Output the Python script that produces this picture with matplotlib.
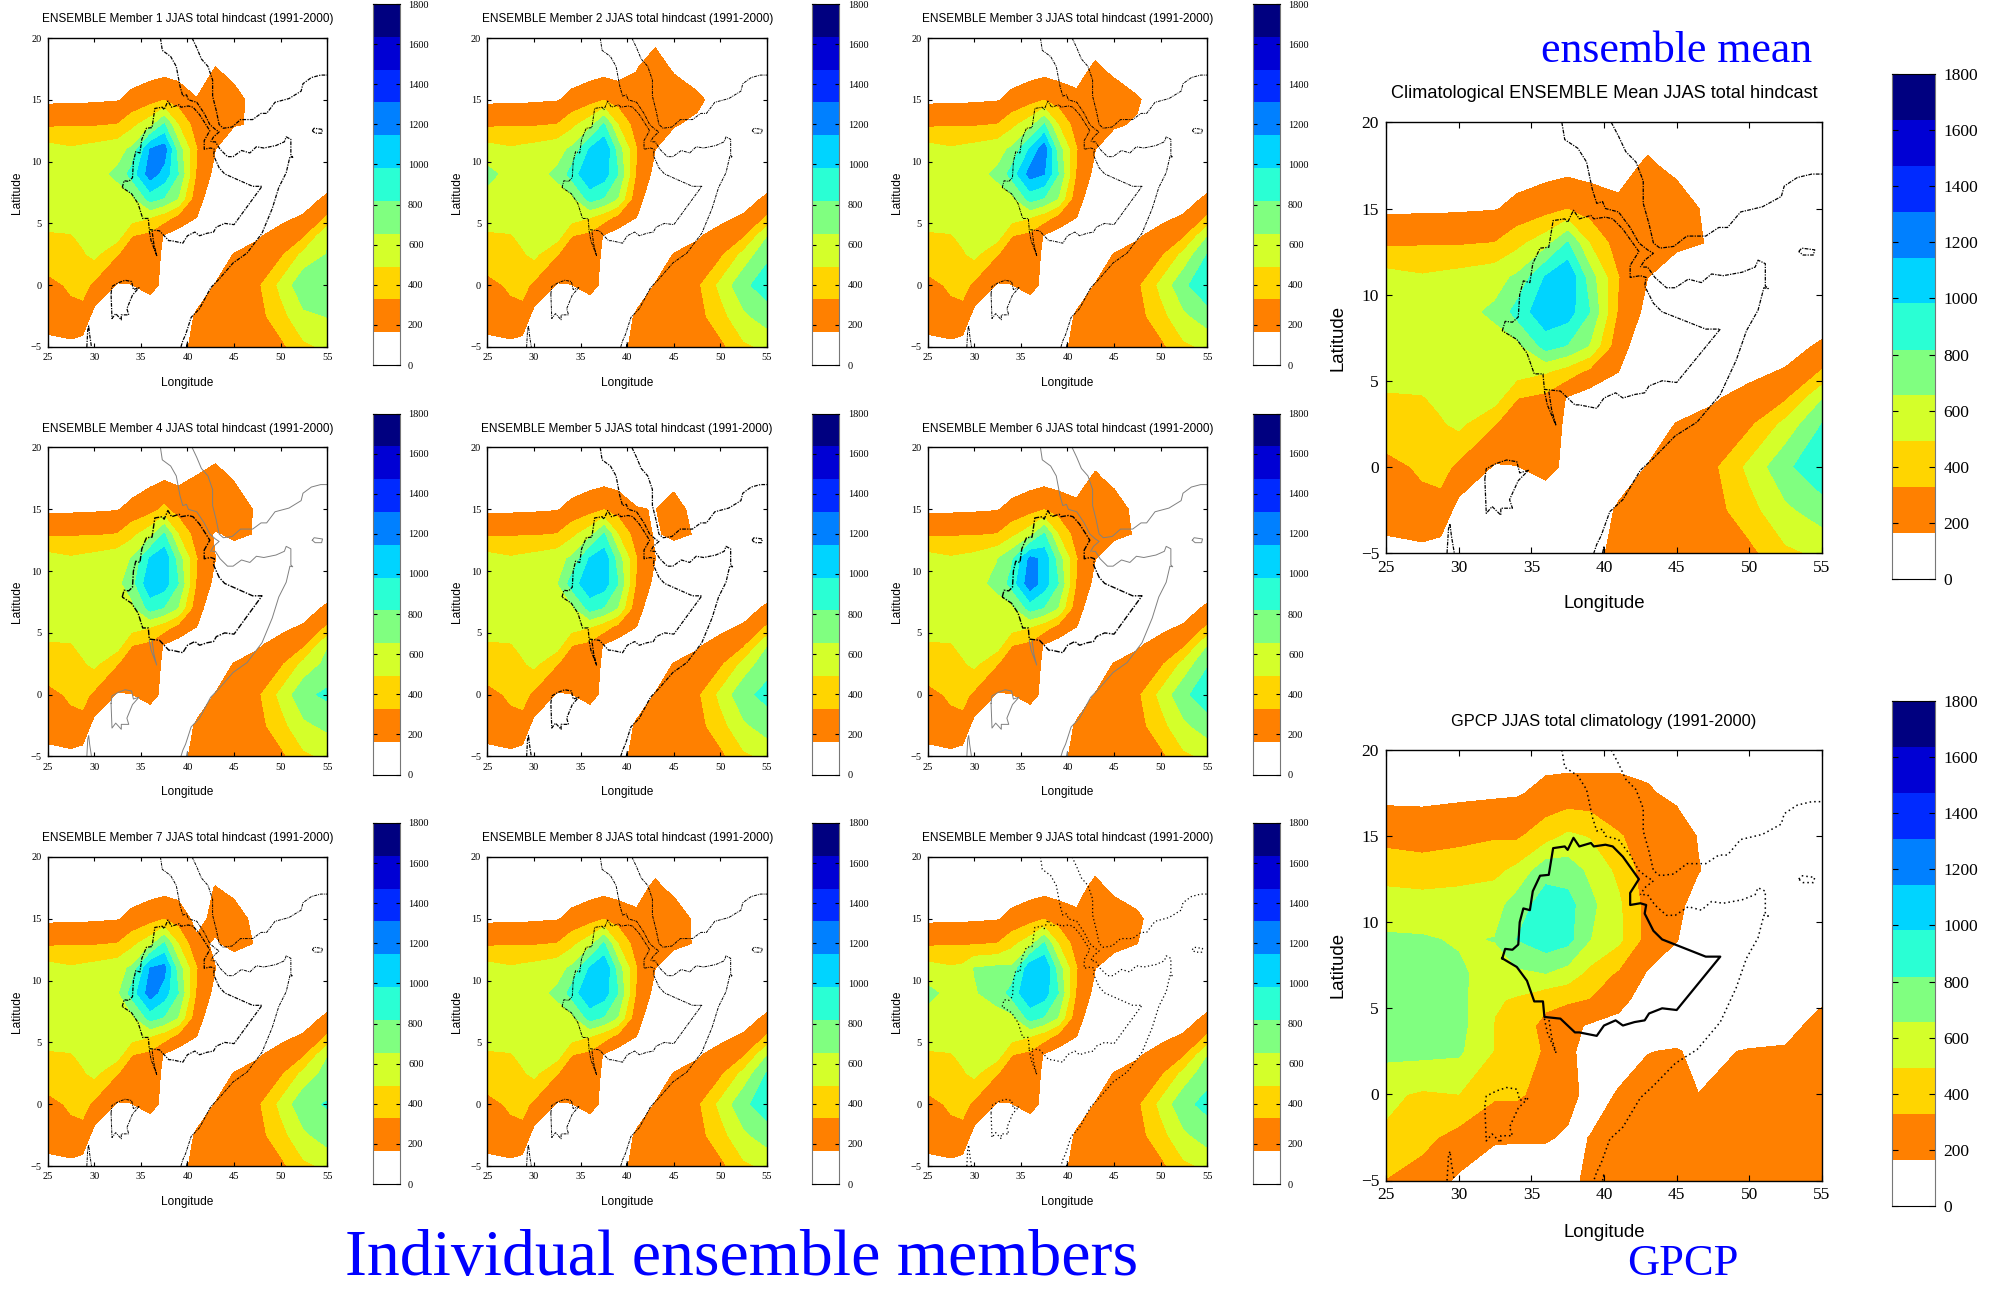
import numpy as np
import matplotlib
matplotlib.use("Agg")
import matplotlib.pyplot as plt

W, H = 1999, 1290
LEVELS = [0, 164, 327, 491, 655, 818, 982, 1145, 1309, 1473, 1636, 1800]
COLORS = ['#ffffff', '#ff8000', '#ffd500', '#d4ff2a', '#80ff80', '#2affd4',
          '#00d4ff', '#0080ff', '#002aff', '#0000d4', '#000080']
CB_TICKS = [0, 200, 400, 600, 800, 1000, 1200, 1400, 1600, 1800]

LON = [25, 27.5, 28.75, 30, 32.5, 34, 36, 37.5, 39, 41, 43, 45, 47.5, 50, 52.5, 55]
LAT = [-5, -2.5, 0, 2.5, 4, 5.5, 7, 9, 11, 13, 15, 17.5, 20]
MEAN = [
 [110, 120, 100, 80, 60, 60, 60, 60, 60, 250, 210, 210, 200, 280, 460, 520],
 [240, 290, 270, 110, 60, 90, 60, 80, 60, 185, 210, 220, 260, 430, 620, 740],
 [290, 345, 380, 290, 150, 160, 210, 130, 50, 80, 170, 230, 290, 530, 780, 950],
 [400, 410, 470, 530, 330, 280, 260, 130, 70, 60, 80, 170, 200, 290, 540, 818],
 [470, 480, 530, 540, 560, 330, 280, 150, 90, 50, 50, 70, 150, 210, 300, 640],
 [560, 570, 575, 580, 590, 560, 500, 400, 280, 164, 60, 50, 80, 130, 180, 340],
 [600, 600, 600, 600, 600, 600, 880, 800, 640, 210, 80, 60, 50, 60, 100, 190],
 [590, 600, 605, 610, 680, 880, 1100, 1060, 820, 300, 120, 80, 50, 40, 40, 60],
 [555, 510, 530, 550, 600, 680, 1000, 1130, 740, 330, 165, 90, 60, 40, 30, 25],
 [300, 310, 310, 310, 330, 440, 590, 830, 490, 240, 170, 190, 155, 60, 40, 30],
 [135, 138, 140, 145, 155, 200, 260, 320, 250, 200, 260, 250, 110, 60, 40, 30],
 [90, 90, 90, 90, 95, 95, 100, 105, 105, 100, 190, 120, 70, 40, 30, 20],
 [60, 60, 60, 60, 60, 60, 60, 60, 60, 60, 80, 70, 40, 30, 20, 20],
]

GPCP_LON = [25, 27.5, 30, 32.5, 34, 36, 37.5, 39, 41, 43, 45, 46.5, 50, 52.5, 55]
GPCP = [
 [320, 260, 140, 80, 70, 90, 130, 190, 220, 220, 220, 220, 220, 220, 220],
 [470, 370, 270, 180, 180, 175, 150, 165, 200, 210, 215, 215, 215, 220, 225],
 [520, 470, 490, 350, 350, 270, 200, 130, 170, 210, 210, 165, 220, 230, 240],
 [700, 700, 680, 480, 440, 300, 190, 120, 130, 160, 175, 130, 175, 175, 230],
 [720, 720, 710, 480, 410, 280, 200, 150, 130, 100, 80, 60, 70, 130, 200],
 [720, 720, 700, 510, 470, 370, 350, 320, 200, 110, 70, 50, 50, 80, 150],
 [720, 720, 680, 590, 620, 650, 580, 440, 300, 150, 90, 50, 40, 50, 70],
 [680, 670, 640, 660, 820, 920, 870, 660, 530, 260, 170, 70, 40, 40, 40],
 [560, 560, 570, 590, 730, 900, 880, 700, 520, 260, 210, 90, 40, 30, 30],
 [430, 400, 420, 450, 530, 760, 740, 620, 450, 240, 240, 170, 50, 40, 30],
 [270, 255, 280, 310, 300, 420, 520, 480, 340, 260, 240, 155, 60, 40, 30],
 [120, 120, 130, 140, 150, 200, 210, 210, 210, 180, 130, 80, 50, 40, 30],
 [90, 90, 90, 100, 110, 110, 110, 110, 110, 110, 100, 80, 50, 40, 30],
]

# per-member readings that differ from the mean: (lat, lon): value
MEMBER_EDITS = {
 1: {(9, 36): 1230, (11, 37.5): 1230, (11, 36): 1150, (9, 37.5): 1080, (17.5, 43): 170, (17.5, 41): 90,
     (15, 41): 170, (15, 43): 250, (15, 45): 210, (13, 45): 170, (0, 55): 720, (2.5, 55): 660, (-2.5, 55): 660},
 2: {(9, 36): 1130, (11, 37.5): 1130, (17.5, 41): 160, (17.5, 43): 260, (17.5, 45): 140, (20, 43): 120,
     (15, 45): 290, (15, 47.5): 200, (15, 50): 90, (13, 45): 175, (13, 47.5): 130, (9, 25): 700,
     (0, 55): 900, (2.5, 55): 780},
 3: {(9, 36): 1210, (11, 37.5): 1240, (9, 37.5): 1150, (17.5, 43): 195, (15, 45): 270, (15, 47.5): 180,
     (15, 50): 80, (13, 45): 180, (13, 47.5): 150, (0, 55): 950},
 4: {(9, 36): 1110, (11, 37.5): 1110, (9, 32.5): 610, (9, 34): 740, (11, 34): 660, (15, 37.5): 360,
     (17.5, 36): 125, (17.5, 37.5): 150, (17.5, 39): 135, (17.5, 41): 175, (17.5, 43): 240, (17.5, 45): 150,
     (15, 45): 290, (15, 47.5): 130, (13, 43): 150, (0, 55): 850, (2.5, 55): 700, (-2.5, 55): 690},
 5: {(9, 36): 1110, (11, 37.5): 1090, (9, 32.5): 640, (17.5, 43): 130, (17.5, 45): 120, (15, 41): 170,
     (15, 43): 160, (15, 45): 220, (13, 43): 150, (13, 45): 190, (0, 55): 860, (2.5, 55): 760},
 6: {(9, 36): 1250, (11, 36): 1190, (11, 37.5): 1100, (9, 37.5): 1060, (9, 32.5): 690, (11, 32.5): 650,
     (11, 34): 780, (17.5, 43): 190, (15, 45): 250, (0, 55): 920, (2.5, 55): 800},
 7: {(9, 36): 1230, (11, 36): 1150, (11, 37.5): 1200, (9, 32.5): 620, (17.5, 43): 170, (15, 41): 120,
     (15, 43): 200, (15, 45): 240, (13, 41): 190, (13, 43): 150, (13, 45): 200, (0, 55): 830, (2.5, 55): 720},
 8: {(9, 36): 1130, (11, 37.5): 1130, (17.5, 43): 200, (15, 45): 270, (15, 47.5): 120,
     (0, 55): 910, (2.5, 55): 830},
 9: {(9, 36): 1120, (11, 36): 1100, (11, 37.5): 1140, (9, 25): 700, (9, 30): 640, (9, 32.5): 720,
     (11, 30): 660, (11, 32.5): 690, (17.5, 43): 215, (15, 45): 280, (15, 47.5): 200, (13, 45): 190,
     (13, 47.5): 165, (11, 45): 120, (0, 55): 860, (2.5, 55): 760},
}

ETH_LON = [33, 33.2, 33.7, 34.1, 34.2, 34.45, 34.9, 35.1, 35.6, 36.2, 36.5, 37.3, 37.5, 37.9, 38.3, 39.1, 39.3, 40.1, 40.6, 41.3, 42.4, 41.8, 41.8, 42.5, 42.9, 42.8, 43.4, 44, 47, 48, 45, 44, 43.1, 42.8, 42.1, 41.3, 40.8, 40, 39.5, 38.3, 38, 37, 35.9, 35.8, 35.2, 34.7, 34, 33]
ETH_LAT = [7.9, 8.45, 8.4, 8.7, 10, 10.8, 10.7, 11.8, 12.7, 12.75, 14.3, 14.4, 14.2, 14.9, 14.4, 14.6, 14.4, 14.5, 14.4, 13.8, 12.5, 11.7, 11, 11.1, 11, 10.5, 9.5, 9, 8, 8, 4.9, 5, 4.7, 4.3, 4.2, 4, 4.3, 4, 3.4, 3.6, 3.6, 4.4, 4.5, 5.4, 5.4, 6.6, 7.4, 7.9]
COAST_LINES = [
 ([37.1, 37.3, 38.2, 38.8, 39.2, 39.5, 39.9, 40.1, 41, 41.8, 42.4, 43, 43.4, 42.8, 42.5],
  [20, 19, 18.5, 17.7, 16.1, 15.3, 15.4, 15, 14.8, 13.9, 13, 12.6, 12.4, 12, 11.6]),
 ([40.5, 41, 41.5, 42.2, 42.7, 42.7, 43.1, 43.4, 43.85, 44.8, 45.7, 47, 47.9, 48.5, 49.4, 50.9, 52.2, 52.4, 53.3, 54.3, 55],
  [20, 19.2, 18.3, 17.7, 16.6, 15.3, 14.1, 13, 12.7, 12.8, 13.4, 13.4, 13.9, 13.9, 14.8, 15.1, 15.7, 16.3, 16.8, 17, 17]),
 ([42.7, 43, 43.5, 44.3, 44.9, 45.8, 46.7, 47.4, 48.2, 49.5, 50.4, 50.6, 51.1, 51.1, 51.3, 51, 50.6, 49.8, 49.1, 48, 46.4, 44.9, 43.4, 42.5, 41.3, 40.4, 39.8, 39.5, 39.3],
  [11.6, 11.6, 11, 10.4, 10.4, 10.9, 10.7, 11.2, 11.1, 11.3, 11.6, 12, 11.8, 10.5, 10.35, 10.4, 9.1, 7.9, 6.2, 4.2, 2.6, 1.8, 0.5, -0.2, -1.9, -2.6, -4, -4.5, -5]),
 ([31.8, 31.9, 32.6, 33.3, 34, 34.2, 34.8, 34.1, 33.5, 33.7, 32.9, 32.9, 32.3, 31.9, 31.8],
  [-0.7, -0.1, 0.2, 0.4, 0.3, -0.35, -0.2, -0.8, -1.9, -2.4, -2.4, -2.8, -2.3, -2.7, -0.7]),
 ([35.9, 36.1, 36.7, 36.4, 36.2], [4.4, 3.6, 2.4, 3.3, 4.4]),
 ([29.2, 29.3, 29.4, 29.5, 29.7], [-5, -3.6, -3.3, -4, -5]),
 ([53.4, 53.6, 54.5, 54.4, 53.7, 53.4], [12.5, 12.7, 12.6, 12.3, 12.3, 12.5]),
 ([39.9, 40, 40], [-5, -4.6, -5]),
]
TITLE_M = 'ENSEMBLE Member {} JJAS total hindcast (1991-2000)'
TITLE_MEAN = 'Climatological ENSEMBLE Mean JJAS total hindcast'
TITLE_GPCP = 'GPCP JJAS total climatology (1991-2000)'
XT = [25, 30, 35, 40, 45, 50, 55]
YT = [-5, 0, 5, 10, 15, 20]

SANS = 'Liberation Sans'
SERIF = 'Liberation Serif'
fig = plt.figure(figsize=(W / 100, H / 100), dpi=100)


def axpx(x0, y0, x1, y1):
    return fig.add_axes([x0 / W, 1 - y1 / H, (x1 - x0) / W, (y1 - y0) / H])


def panel(box, lon, field, title, style, ts, ls, tick, tl, pad, xpad, ypad, tpad):
    ax = axpx(*box)
    ax.contourf(lon, LAT, np.array(field, float), levels=LEVELS, colors=COLORS)
    coast_kw, eth_kw = style
    for xs, ys in COAST_LINES:
        ax.plot(xs, ys, **coast_kw)
    ax.plot(ETH_LON, ETH_LAT, **eth_kw)
    ax.set_xlim(25, 55)
    ax.set_ylim(-5, 20)
    ax.set_xticks(XT)
    ax.set_yticks(YT)
    ax.tick_params(direction='in', top=True, right=True, length=tick, width=0.8, pad=pad)
    for t in ax.get_xticklabels() + ax.get_yticklabels():
        t.set_fontfamily(SERIF)
        t.set_fontsize(tl)
    ax.set_xlabel('Longitude', family=SANS, fontsize=ls, labelpad=xpad)
    ax.set_ylabel('Latitude', family=SANS, fontsize=ls, labelpad=ypad)
    ax.set_title(title, family=SANS, fontsize=ts, pad=tpad)
    for s in ax.spines.values():
        s.set_linewidth(1.0)
    return ax


def cbar(box, tick, tl):
    ax = axpx(*box)
    ax.pcolormesh([0, 1], LEVELS, np.arange(len(COLORS)).reshape(-1, 1),
                  cmap=matplotlib.colors.ListedColormap(COLORS),
                  vmin=-0.5, vmax=len(COLORS) - 0.5)
    ax.set_xlim(0, 1)
    ax.set_ylim(0, 1800)
    ax.set_xticks([])
    ax.set_yticks(CB_TICKS)
    ax.tick_params(axis='y', direction='in', left=True, right=True, labelleft=False,
                   labelright=True, length=tick, width=0.8, pad=6)
    for t in ax.get_yticklabels():
        t.set_fontfamily(SERIF)
        t.set_fontsize(tl)
    for n, s in ax.spines.items():
        s.set_linewidth(0.8)
        s.set_color('black' if n in ('top', 'bottom') else '#777777')


FINE = dict(color='black', lw=0.7, ls=(0, (3, 1, 1, 1)))
DASHDOT = dict(color='black', lw=0.9, ls=(0, (3, 1, 1, 1)))
GRAY = dict(color='#808080', lw=0.7, ls='-')
DASHED = dict(color='black', lw=1.0, ls=(0, (4, 1, 1, 1)))
DOT = dict(color='black', lw=1.1, ls=(0, (1, 2)))
DOT_FINE = dict(color='black', lw=0.9, ls=(0, (1, 2)))
SOLID = dict(color='black', lw=1.6, ls='-')
MEMBER_STYLE = {1: (DASHDOT, DASHDOT), 2: (FINE, FINE), 3: (FINE, FINE),
                4: (GRAY, DASHED), 5: (DASHDOT, DASHDOT), 6: (GRAY, DASHED),
                7: (FINE, DASHDOT), 8: (FINE, FINE), 9: (DOT_FINE, DOT_FINE)}

COL_X = [47.7, 487.5, 927.7]
ROW_Y = [38, 447.5, 857]
for m in range(1, 10):
    r, c = (m - 1) // 3, (m - 1) % 3
    x0, y0 = COL_X[c], ROW_Y[r]
    f = np.array(MEAN, float)
    for (la, lo), v in MEMBER_EDITS[m].items():
        f[LAT.index(la), LON.index(lo)] = v
    panel((x0, y0, x0 + 279.5, y0 + 309), LON, f, TITLE_M.format(m), MEMBER_STYLE[m],
          8.5, 8.6, 3, 7.5, 4.5, 10.5, 5, 11.5)
    cbar((x0 + 325, y0 - 34, x0 + 352, y0 + 327), 3, 7.5)

panel((1386, 122.4, 1822, 553), LON, MEAN, TITLE_MEAN, (DASHDOT, DASHDOT), 13.1, 13.4, 4, 12.5, 5, 14, 10, 17.5)
cbar((1892, 74, 1935, 579), 4, 12.5)
panel((1386, 750, 1822, 1180.5), GPCP_LON, GPCP, TITLE_GPCP, (DOT, SOLID), 11.8, 13.4, 4, 12.5, 5, 15, 10, 17.5)
cbar((1892, 701, 1935, 1206), 4, 12.5)

fig.text(742 / W, 1 - 1275.5 / H, 'Individual ensemble members', family=SERIF, color='#0000ff',
         fontsize=47.3, ha='center', va='baseline')
fig.text(1677 / W, 1 - 51 / H, 'ensemble mean', family=SERIF, color='#0000ff', fontsize=31.6,
         ha='center', va='center')
fig.text(1683 / W, 1 - 1264 / H, 'GPCP', family=SERIF, color='#0000ff', fontsize=32,
         ha='center', va='center')
fig.savefig('out.png', dpi=100)
